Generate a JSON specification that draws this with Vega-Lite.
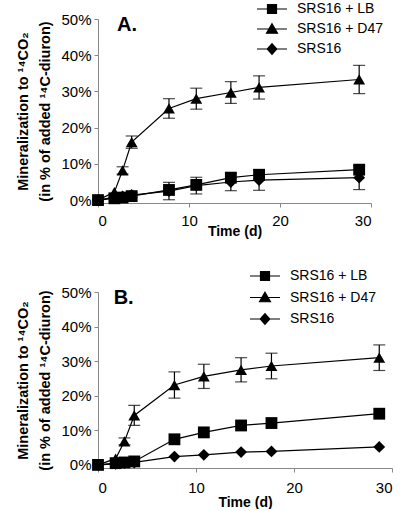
{
  "$schema": "https://vega.github.io/schema/vega-lite/v6.json",
  "padding": {"left": 15, "top": 2, "right": 0, "bottom": 0},
  "background": "white",
  "spacing": 31,
  "datasets": {
    "d": [
      {"panel": "A", "series": "SRS16 + LB", "t": 0, "v": 0},
      {"panel": "A", "series": "SRS16 + LB", "t": 1.8, "v": 0.5},
      {"panel": "A", "series": "SRS16 + LB", "t": 2.7, "v": 0.7},
      {"panel": "A", "series": "SRS16 + LB", "t": 3.7, "v": 1.1},
      {"panel": "A", "series": "SRS16 + LB", "t": 7.8, "v": 2.8},
      {"panel": "A", "series": "SRS16 + LB", "t": 10.8, "v": 4.2},
      {"panel": "A", "series": "SRS16 + LB", "t": 14.6, "v": 6.2},
      {"panel": "A", "series": "SRS16 + LB", "t": 17.7, "v": 7.0},
      {"panel": "A", "series": "SRS16 + LB", "t": 28.7, "v": 8.4},
      {"panel": "A", "series": "SRS16 + D47", "t": 0, "v": 0},
      {"panel": "A", "series": "SRS16 + D47", "t": 1.8, "v": 2.2},
      {"panel": "A", "series": "SRS16 + D47", "t": 2.7, "v": 8.2, "err": 1.0},
      {"panel": "A", "series": "SRS16 + D47", "t": 3.7, "v": 16.0, "err": 1.7},
      {"panel": "A", "series": "SRS16 + D47", "t": 7.8, "v": 25.3, "err": 2.7},
      {"panel": "A", "series": "SRS16 + D47", "t": 10.8, "v": 28.0, "err": 2.9},
      {"panel": "A", "series": "SRS16 + D47", "t": 14.6, "v": 29.7, "err": 3.0},
      {"panel": "A", "series": "SRS16 + D47", "t": 17.7, "v": 31.1, "err": 3.2},
      {"panel": "A", "series": "SRS16 + D47", "t": 28.7, "v": 33.3, "err": 3.9},
      {"panel": "A", "series": "SRS16", "t": 0, "v": 0},
      {"panel": "A", "series": "SRS16", "t": 1.8, "v": 0.8},
      {"panel": "A", "series": "SRS16", "t": 2.7, "v": 1.0},
      {"panel": "A", "series": "SRS16", "t": 3.7, "v": 1.4, "err": 0.6},
      {"panel": "A", "series": "SRS16", "t": 7.8, "v": 2.5, "err": 2.4},
      {"panel": "A", "series": "SRS16", "t": 10.8, "v": 4.0, "err": 2.3},
      {"panel": "A", "series": "SRS16", "t": 14.6, "v": 5.0, "err": 2.4},
      {"panel": "A", "series": "SRS16", "t": 17.7, "v": 5.5, "err": 2.8},
      {"panel": "A", "series": "SRS16", "t": 28.7, "v": 6.2, "err": 3.3},
      {"panel": "B", "series": "SRS16 + LB", "t": 0, "v": 0},
      {"panel": "B", "series": "SRS16 + LB", "t": 1.8, "v": 0.5},
      {"panel": "B", "series": "SRS16 + LB", "t": 2.7, "v": 0.7},
      {"panel": "B", "series": "SRS16 + LB", "t": 3.7, "v": 1.0},
      {"panel": "B", "series": "SRS16 + LB", "t": 7.8, "v": 7.4},
      {"panel": "B", "series": "SRS16 + LB", "t": 10.8, "v": 9.4},
      {"panel": "B", "series": "SRS16 + LB", "t": 14.6, "v": 11.4},
      {"panel": "B", "series": "SRS16 + LB", "t": 17.7, "v": 12.1},
      {"panel": "B", "series": "SRS16 + LB", "t": 28.7, "v": 14.8},
      {"panel": "B", "series": "SRS16 + D47", "t": 0, "v": 0},
      {"panel": "B", "series": "SRS16 + D47", "t": 1.8, "v": 1.8},
      {"panel": "B", "series": "SRS16 + D47", "t": 2.7, "v": 6.8, "err": 1.0},
      {"panel": "B", "series": "SRS16 + D47", "t": 3.7, "v": 14.3, "err": 2.9},
      {"panel": "B", "series": "SRS16 + D47", "t": 7.8, "v": 23.1, "err": 3.8},
      {"panel": "B", "series": "SRS16 + D47", "t": 10.8, "v": 25.6, "err": 3.5},
      {"panel": "B", "series": "SRS16 + D47", "t": 14.6, "v": 27.5, "err": 3.5},
      {"panel": "B", "series": "SRS16 + D47", "t": 17.7, "v": 28.6, "err": 3.7},
      {"panel": "B", "series": "SRS16 + D47", "t": 28.7, "v": 31.0, "err": 3.7},
      {"panel": "B", "series": "SRS16", "t": 0, "v": 0},
      {"panel": "B", "series": "SRS16", "t": 1.8, "v": 0.3},
      {"panel": "B", "series": "SRS16", "t": 2.7, "v": 0.5},
      {"panel": "B", "series": "SRS16", "t": 3.7, "v": 0.7},
      {"panel": "B", "series": "SRS16", "t": 7.8, "v": 2.4},
      {"panel": "B", "series": "SRS16", "t": 10.8, "v": 2.9},
      {"panel": "B", "series": "SRS16", "t": 14.6, "v": 3.7},
      {"panel": "B", "series": "SRS16", "t": 17.7, "v": 3.9},
      {"panel": "B", "series": "SRS16", "t": 28.7, "v": 5.2}
    ]
  },
  "config": {
    "view": {"stroke": null},
    "font": "Liberation Sans",
    "axis": {
      "grid": false,
      "domainColor": "#888888",
      "tickColor": "#888888",
      "tickSize": 4,
      "labelFont": "Liberation Sans",
      "labelFontSize": 15,
      "labelColor": "black",
      "titleFont": "Liberation Sans",
      "titleFontSize": 14,
      "titleFontWeight": "bold",
      "titleColor": "black"
    },
    "legend": {
      "orient": "none", "title": null, "padding": 0,
      "symbolStrokeWidth": 1.2, "labelFont": "Liberation Sans", "labelFontSize": 14, "labelOffset": 18,
      "labelColor": "black", "rowPadding": 6.5
    }
  },
  "vconcat": [
    {
      "width": 273,
      "height": 184,
      "data": {"name": "d"},
      "transform": [{"filter": "datum.panel === 'A'"}],
      "encoding": {
        "x": {"field": "t", "type": "quantitative", "scale": {"domain": [0, 30], "padding": 0, "nice": false},
              "axis": {"values": [0, 10, 20, 30], "title": "Time (d)", "labelPadding": 6, "titlePadding": -4}},
        "y": {"field": "v", "type": "quantitative", "scale": {"domain": [-0.8, 50], "nice": false, "zero": false, "padding": 0},
              "axis": {"values": [0, 10, 20, 30, 40, 50], "labelExpr": "datum.value + '%'", "labelPadding": 3,
                       "title": ["Mineralization to ¹⁴CO₂", "(in % of added  ¹⁴C-diuron)"],
                       "titleFontSize": 14.5, "titleLineHeight": 22, "titlePadding": 8}}
      },
      "layer": [
        {"mark": {"type": "line", "color": "black", "strokeWidth": 1.2},
         "encoding": {"detail": {"field": "series"}}},
        {"transform": [{"filter": "isValid(datum.err)"}],
         "mark": {"type": "errorbar", "ticks": {"size": 12, "color": "black", "thickness": 1.2}, "rule": {"color": "black", "strokeWidth": 1.2}},
         "encoding": {"yError": {"field": "err"}}},
        {"mark": {"type": "point", "filled": true, "opacity": 1, "color": "black", "size": 140},
         "encoding": {
           "shape": {"field": "series", "type": "nominal",
             "scale": {"domain": ["SRS16 + LB", "SRS16 + D47", "SRS16"], "range": ["square", "triangle-up", "diamond"]},
             "legend": null}
         }},
        {"transform": [{"filter": "false"}],
         "mark": {"type": "point", "filled": true, "opacity": 1, "fill": "black", "stroke": "black", "strokeWidth": 1.2, "size": 144},
         "encoding": {
           "shape": {"field": "series", "type": "nominal",
             "scale": {"domain": ["SRS16 + LB", "SRS16 + D47", "SRS16"],
                       "range": ["M-3,0H3M-0.9,-0.9H0.9V0.9H-0.9Z", "M-3,0H3M0,-1.05L1.1,0.85H-1.1Z", "M-3,0H3M0,-1.05L0.95,0L0,1.05L-0.95,0Z"]},
             "legend": {"legendX": 167, "legendY": -17, "rowPadding": 5}}
         }},
        {"transform": [{"filter": "datum.t === 0 && datum.series === 'SRS16'"}],
         "mark": {"type": "text", "text": "A.", "align": "left", "baseline": "middle", "fontSize": 20, "fontWeight": "bold", "color": "black"},
         "encoding": {"x": {"datum": 2.1}, "y": {"datum": 48.3}}}
      ],
      "resolve": {"scale": {"shape": "independent"}, "legend": {"shape": "independent"}}
    },
    {
      "width": 294,
      "height": 176,
      "data": {"name": "d"},
      "transform": [{"filter": "datum.panel === 'B'"}],
      "encoding": {
        "x": {"field": "t", "type": "quantitative", "scale": {"domain": [0, 30], "padding": 0, "nice": false},
              "axis": {"values": [0, 10, 20, 30], "title": "Time (d)", "labelPadding": 8, "titlePadding": 0}},
        "y": {"field": "v", "type": "quantitative", "scale": {"domain": [-0.9, 50], "nice": false, "zero": false, "padding": 0},
              "axis": {"values": [0, 10, 20, 30, 40, 50], "labelExpr": "datum.value + '%'", "labelPadding": 3,
                       "title": ["Mineralization to ¹⁴CO₂", "(in % of added  ¹⁴C-diuron)"],
                       "titleFontSize": 14.5, "titleLineHeight": 22, "titlePadding": 8}}
      },
      "layer": [
        {"mark": {"type": "line", "color": "black", "strokeWidth": 1.2},
         "encoding": {"detail": {"field": "series"}}},
        {"transform": [{"filter": "isValid(datum.err)"}],
         "mark": {"type": "errorbar", "ticks": {"size": 12, "color": "black", "thickness": 1.2}, "rule": {"color": "black", "strokeWidth": 1.2}},
         "encoding": {"yError": {"field": "err"}}},
        {"mark": {"type": "point", "filled": true, "opacity": 1, "color": "black", "size": 140},
         "encoding": {
           "shape": {"field": "series", "type": "nominal",
             "scale": {"domain": ["SRS16 + LB", "SRS16 + D47", "SRS16"], "range": ["square", "triangle-up", "diamond"]},
             "legend": null}
         }},
        {"transform": [{"filter": "false"}],
         "mark": {"type": "point", "filled": true, "opacity": 1, "fill": "black", "stroke": "black", "strokeWidth": 1.2, "size": 144},
         "encoding": {
           "shape": {"field": "series", "type": "nominal",
             "scale": {"domain": ["SRS16 + LB", "SRS16 + D47", "SRS16"],
                       "range": ["M-3,0H3M-0.9,-0.9H0.9V0.9H-0.9Z", "M-3,0H3M0,-1.05L1.1,0.85H-1.1Z", "M-3,0H3M0,-1.05L0.95,0L0,1.05L-0.95,0Z"]},
             "legend": {"legendX": 160, "legendY": -23}}
         }},
        {"transform": [{"filter": "datum.t === 0 && datum.series === 'SRS16'"}],
         "mark": {"type": "text", "text": "B.", "align": "left", "baseline": "middle", "fontSize": 20, "fontWeight": "bold", "color": "black"},
         "encoding": {"x": {"datum": 1.6}, "y": {"datum": 48.2}}}
      ],
      "resolve": {"scale": {"shape": "independent"}, "legend": {"shape": "independent"}}
    }
  ],
  "resolve": {"scale": {"shape": "independent"}, "legend": {"shape": "independent"}}
}
